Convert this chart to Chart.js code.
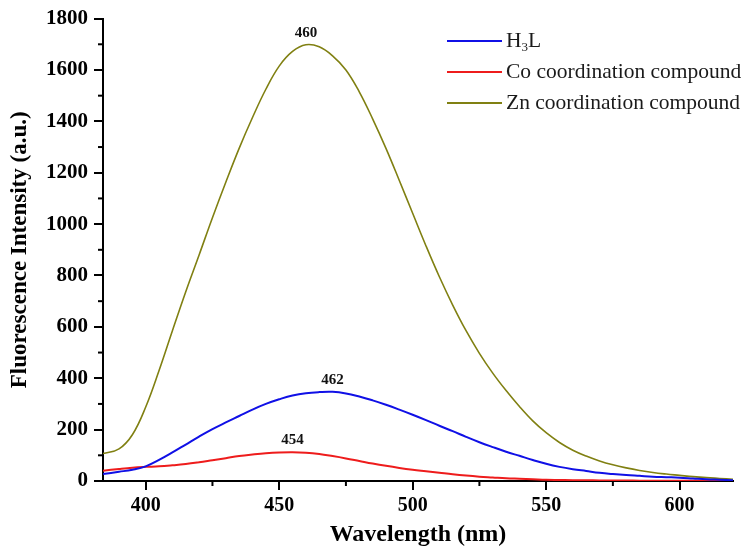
<!DOCTYPE html>
<html lang="en">
<head>
  <meta charset="UTF-8">
  <title>fluorescence-spectra</title>
  <style>
    html, body { margin: 0; padding: 0; background: #ffffff; }
    .canvas_box { width: 749px; height: 557px; }
  </style>
  <script src="https://cdn.jsdelivr.net/npm/chart.js@4.4.6/dist/chart.umd.min.js"></script>
</head>
<body>
<div class="canvas_box">
  <canvas id="myChart" width="749" height="557"></canvas>
</div>
<script>
// wavelength (nm) and intensities (a.u.)
var wavelengths = [384, 390, 395, 400, 405, 410, 415, 420, 425, 430, 435, 440, 445, 450, 455, 460,
                   465, 470, 475, 480, 485, 490, 495, 500, 505, 510, 515, 520, 525, 530, 535, 540,
                   545, 550, 555, 560, 565, 570, 575, 580, 585, 590, 595, 600, 605, 610, 615, 620];
var h3l = [27, 36, 44, 57, 82, 111, 142, 173, 202, 228, 253, 278, 300, 318, 333, 342,
           346, 347, 341, 329, 314, 297, 278, 258, 237, 215, 194, 172, 151, 132, 114, 98,
           82, 67, 55, 46, 39, 32, 27, 23, 20, 17, 15, 13, 10, 7, 5, 3];
var coCompound = [40, 47, 52, 55, 57, 61, 66, 73, 81, 89, 97, 103, 108, 111, 112, 110,
                  105, 97, 88, 78, 68, 59, 51, 44, 38, 32, 26, 21, 17, 14, 11, 9,
                  7, 5, 4, 3, 3, 2, 2, 2, 1, 1, 1, 1, 1, 0, 0, 0];
var znCompound = [107, 125, 180, 288, 430, 585, 737, 880, 1025, 1163, 1295, 1415, 1525, 1615, 1672, 1698,
                  1690, 1655, 1600, 1515, 1410, 1295, 1170, 1042, 915, 795, 685, 585, 497, 420, 352, 290,
                  234, 188, 150, 120, 97, 78, 63, 51, 41, 33, 27, 22, 17, 13, 10, 7];
var seriesNames = ['H₃L', 'Co coordination compound', 'Zn coordination compound'];
var peakLabels = ['462', '454', '460'];

var xTicks = [400, 450, 500, 550, 600];
var xMinorTicks = [425, 475, 525, 575];
var yTicks = [0, 200, 400, 600, 800, 1000, 1200, 1400, 1600, 1800];
var yMinorTicks = [100, 300, 500, 700, 900, 1100, 1300, 1500, 1700];

function toPoints(values) {
  return wavelengths.map(function(w, i) { return {x: w, y: values[i]}; });
}

// draws text, turning ₀-₉ into small lowered digits
function drawRich(ctx, text, x, y, size) {
  var cx = x;
  for (var i = 0; i < text.length; i++) {
    var ch = text[i];
    var code = ch.charCodeAt(0);
    if (code >= 0x2080 && code <= 0x2089) {
      var d = String.fromCharCode(48 + code - 0x2080);
      ctx.font = Math.round(size * 0.6) + 'px "Liberation Serif"';
      ctx.fillText(d, cx, y + size * 0.3);
      cx += ctx.measureText(d).width;
    } else {
      ctx.font = size + 'px "Liberation Serif"';
      ctx.fillText(ch, cx, y);
      cx += ctx.measureText(ch).width;
    }
  }
}

var extrasPlugin = {
  id: 'extras',
  afterDraw: function(chart) {
    var ctx = chart.ctx;
    var xs = chart.scales.x, ys = chart.scales.y;
    var area = chart.chartArea;
    ctx.save();
    // minor ticks
    ctx.strokeStyle = '#000';
    ctx.lineWidth = 2;
    xMinorTicks.forEach(function(v) {
      var px = xs.getPixelForValue(v);
      ctx.beginPath(); ctx.moveTo(px, area.bottom); ctx.lineTo(px, area.bottom + 5); ctx.stroke();
    });
    yMinorTicks.forEach(function(v) {
      var py = ys.getPixelForValue(v);
      ctx.beginPath(); ctx.moveTo(area.left, py); ctx.lineTo(area.left - 5, py); ctx.stroke();
    });
    // peak labels
    ctx.fillStyle = '#111';
    ctx.font = 'bold 15px "Liberation Serif"';
    ctx.textAlign = 'center';
    ctx.textBaseline = 'middle';
    chart.data.datasets.forEach(function(ds, i) {
      var best = 0;
      ds.data.forEach(function(p, j) { if (p.y > ds.data[best].y) best = j; });
      var px = xs.getPixelForValue(ds.data[best].x);
      var py = ys.getPixelForValue(ds.data[best].y);
      ctx.fillText(peakLabels[i], px, py - 12);
    });
    // legend
    ctx.textAlign = 'left';
    ctx.fillStyle = '#1a1a1a';
    chart.data.datasets.forEach(function(ds, i) {
      var ly = 41 + i * 31;
      ctx.strokeStyle = ds.borderColor;
      ctx.lineWidth = 2;
      ctx.beginPath(); ctx.moveTo(447, ly); ctx.lineTo(502, ly); ctx.stroke();
      drawRich(ctx, ds.label, 506, ly, 21.5);
    });
    ctx.restore();
  }
};

var ctx = document.getElementById('myChart');
var myChart = new Chart(ctx, {
  type: 'line',
  plugins: [extrasPlugin],
  data: {
    datasets: [
      { label: seriesNames[0], data: toPoints(h3l), borderColor: '#1010e6', borderWidth: 2 },
      { label: seriesNames[1], data: toPoints(coCompound), borderColor: '#ee1c1c', borderWidth: 2 },
      { label: seriesNames[2], data: toPoints(znCompound), borderColor: '#808012', borderWidth: 1.6 }
    ]
  },
  options: {
    responsive: false,
    animation: false,
    elements: { point: { radius: 0 }, line: { tension: 0.4 } },
    layout: { padding: { left: 0, right: 16, top: 17, bottom: 0 } },
    plugins: {
      legend: { display: false },
      tooltip: { enabled: false }
    },
    scales: {
      x: {
        type: 'linear',
        min: 384,
        max: 620,
        afterFit: function(scale) { scale.height = 76; },
        afterBuildTicks: function(scale) { scale.ticks = xTicks.map(function(v) { return {value: v}; }); },
        border: { display: true, color: '#000', width: 2 },
        grid: { drawOnChartArea: false, drawTicks: true, tickLength: 9, tickColor: '#000', lineWidth: 2 },
        ticks: {
          color: '#000',
          padding: 4,
          maxRotation: 0,
          callback: function(value) { return String(value); },
          font: { family: 'Liberation Serif', size: 20, weight: 'bold' }
        },
        title: {
          display: true,
          text: 'Wavelength (nm)',
          color: '#000',
          padding: { top: 0, bottom: 8 },
          font: { family: 'Liberation Serif', size: 24, weight: 'bold' }
        }
      },
      y: {
        min: 0,
        max: 1800,
        afterFit: function(scale) { scale.width = 103; },
        afterBuildTicks: function(scale) { scale.ticks = yTicks.map(function(v) { return {value: v}; }); },
        border: { display: true, color: '#000', width: 2 },
        grid: { drawOnChartArea: false, drawTicks: true, tickLength: 9, tickColor: '#000', lineWidth: 2 },
        ticks: {
          color: '#000',
          padding: 6,
          callback: function(value) { return String(value); },
          font: { family: 'Liberation Serif', size: 21, weight: 'bold' }
        },
        title: {
          display: true,
          text: 'Fluorescence Intensity (a.u.)',
          color: '#000',
          padding: { top: 6, bottom: 0 },
          font: { family: 'Liberation Serif', size: 23, weight: 'bold' }
        }
      }
    }
  }
});
</script>
</body>
</html>
